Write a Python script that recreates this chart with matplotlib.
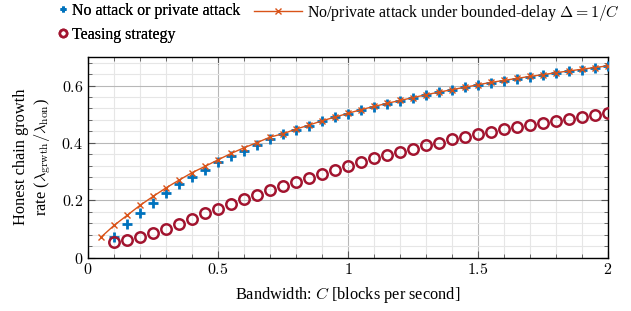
import numpy as np
import matplotlib
matplotlib.use('Agg')
import matplotlib.pyplot as plt
from matplotlib.ticker import MultipleLocator, FuncFormatter

# bandwidth C (blocks per second)
C_blue = [0.10, 0.15, 0.20, 0.25, 0.30, 0.35, 0.40, 0.45, 0.50, 0.55,
          0.60, 0.65, 0.70, 0.75, 0.80, 0.85, 0.90, 0.95, 1.00, 1.05,
          1.10, 1.15, 1.20, 1.25, 1.30, 1.35, 1.40, 1.45, 1.50, 1.55,
          1.60, 1.65, 1.70, 1.75, 1.80, 1.85, 1.90, 1.95, 2.00]
no_attack = [0.072, 0.116, 0.155, 0.191, 0.224, 0.255, 0.281, 0.306, 0.332, 0.354,
             0.373, 0.394, 0.413, 0.430, 0.446, 0.460, 0.476, 0.489, 0.502, 0.515,
             0.525, 0.537, 0.547, 0.557, 0.567, 0.576, 0.585, 0.594, 0.602, 0.610,
             0.617, 0.624, 0.631, 0.637, 0.644, 0.650, 0.656, 0.662, 0.668]

C_orange = [0.05] + C_blue
bounded_delay = [0.071, 0.112, 0.147, 0.182, 0.213, 0.243, 0.270, 0.296, 0.318, 0.341,
                 0.363, 0.383, 0.401, 0.420, 0.432, 0.448, 0.462, 0.477, 0.490, 0.503,
                 0.516, 0.527, 0.538, 0.548, 0.558, 0.568, 0.577, 0.586, 0.594, 0.603,
                 0.611, 0.618, 0.625, 0.632, 0.638, 0.645, 0.651, 0.657, 0.663, 0.669]

C_red = C_blue
teasing = [0.053, 0.061, 0.071, 0.085, 0.100, 0.118, 0.136, 0.154, 0.170, 0.188,
           0.204, 0.219, 0.235, 0.249, 0.264, 0.279, 0.293, 0.307, 0.320, 0.333,
           0.346, 0.357, 0.369, 0.380, 0.391, 0.401, 0.412, 0.422, 0.430, 0.439,
           0.448, 0.455, 0.462, 0.468, 0.477, 0.483, 0.489, 0.496, 0.503]

plt.rcParams['font.family'] = ['Liberation Serif', 'DejaVu Serif']
plt.rcParams['mathtext.fontset'] = 'cm'
plt.rcParams['font.size'] = 11.8

fig = plt.figure(figsize=(6.31, 3.11), dpi=100)
ax = fig.add_axes([0.1395, 0.172, 0.824, 0.645])

ax.grid(which='major', color='#b8b8b8', lw=0.8, zorder=0)
ax.grid(which='minor', color='#e6e6e6', lw=0.8, zorder=0)
ax.set_axisbelow(True)

h_blue, = ax.plot(C_blue, no_attack, '+', color='#0072BD', ms=7, mew=2.0,
                  label='No attack or private attack', zorder=3)
h_orange, = ax.plot(C_orange, bounded_delay, '-x', color='#D95319', lw=1.0, ms=4, mew=1.0,
                    label=r'No/private attack under bounded-delay $\Delta = 1/C$', zorder=4)
h_red, = ax.plot(C_red, teasing, 'o', mfc='none', mec='#A2142F', ms=7.5, mew=1.8,
                 label='Teasing strategy', zorder=3)

ax.set_xlim(0, 2)
ax.set_ylim(0, 0.7)
ax.xaxis.set_major_locator(MultipleLocator(0.5))
ax.xaxis.set_minor_locator(MultipleLocator(0.1))
ax.yaxis.set_major_locator(MultipleLocator(0.2))
ax.yaxis.set_minor_locator(MultipleLocator(0.04))
fmt = FuncFormatter(lambda v, p: '$%g$' % round(v, 2))
ax.xaxis.set_major_formatter(fmt)
ax.yaxis.set_major_formatter(fmt)
ax.tick_params(which='both', direction='in', top=True, right=True, color='#555555',
               labelsize=11.5)
ax.tick_params(which='major', length=5)
ax.tick_params(which='minor', length=3)
for s in ax.spines.values():
    s.set_linewidth(1.0)

ax.set_xlabel(r'Bandwidth: $C$ [blocks per second]', labelpad=5)
ax.set_ylabel('Honest chain growth\n' + r'rate ($\lambda_{\mathrm{grwth}}/\lambda_{\mathrm{hon}}$)',
              labelpad=6)

leg1 = fig.legend(handles=[h_blue, h_red], loc='upper left', bbox_to_anchor=(0.083, 1.012),
                  frameon=False, handlelength=0.6, handletextpad=0.25, labelspacing=0.5,
                  markerscale=0.7, borderaxespad=0, fontsize=11.4)
leg2 = fig.legend(handles=[h_orange], loc='upper left', bbox_to_anchor=(0.393, 1.012),
                  frameon=False, handlelength=3.0, handletextpad=0.3, borderaxespad=0,
                  fontsize=11.4)
fig.add_artist(leg1)

fig.savefig('out.png', dpi=100)
